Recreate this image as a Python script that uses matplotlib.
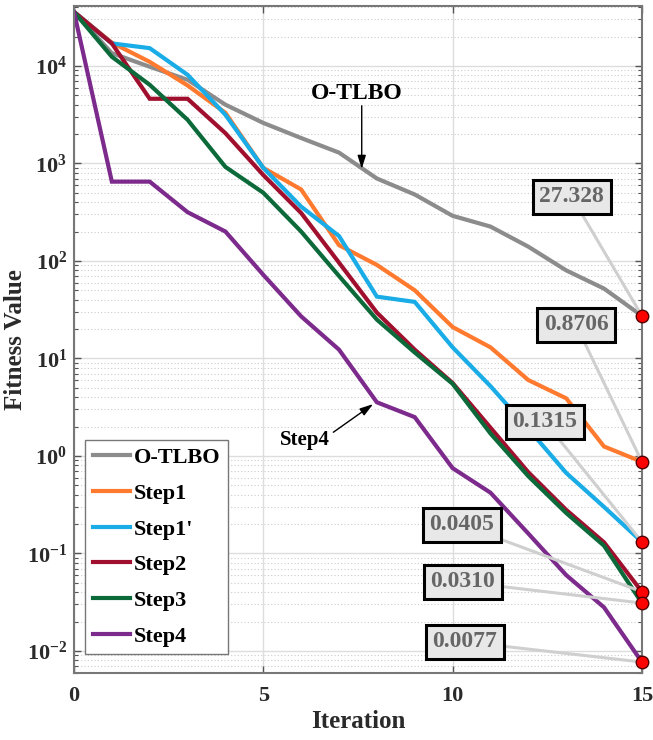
import numpy as np
import matplotlib
matplotlib.use("Agg")
import matplotlib.pyplot as plt
from matplotlib.ticker import FixedLocator, FixedFormatter, NullFormatter

plt.rcParams.update({
    "font.family": "serif",
    "font.serif": ["Liberation Serif", "DejaVu Serif"],
    "font.weight": "bold",
    "mathtext.fontset": "custom",
    "mathtext.rm": "Liberation Serif:bold",
    "mathtext.bf": "Liberation Serif:bold",
    "mathtext.it": "Liberation Serif:bold",
})

# ── Data ─────────────────────────────────────────────────────────────────────
iters = np.arange(16)
names = ["O-TLBO", "Step1", "Step1'", "Step2", "Step3", "Step4"]
colors = ["#8c8c8c", "#ff7a2f", "#19ace6", "#a0102e", "#0c6a3a", "#7c2a8c"]

otlbo = [35800, 13500, 9800, 7200, 4000, 2600, 1820, 1290, 700, 480, 290, 225, 140, 80, 52, 27.328]
step1 = [35800, 17300, 11000, 6300, 3300, 900, 540, 145, 91, 50, 21, 13, 6.0, 3.9, 1.25, 0.8706]
step1p = [35800, 17000, 15200, 8100, 3150, 900, 360, 180, 43, 38, 13, 5.2, 1.9, 0.67, 0.30, 0.1315]
step2 = [35800, 17000, 4600, 4600, 2040, 760, 310, 96, 29.5, 12.3, 5.6, 1.95, 0.68, 0.28, 0.13, 0.0405]
step3 = [35800, 12400, 6400, 2800, 920, 500, 200, 70, 25, 11.5, 5.5, 1.7, 0.62, 0.26, 0.12, 0.0310]
step4 = [35800, 650, 650, 316, 200, 72, 27, 12.3, 3.55, 2.5, 0.75, 0.42, 0.16, 0.060, 0.028, 0.0077]
series = [otlbo, step1, step1p, step2, step3, step4]

final_labels = ["27.328", "0.8706", "0.1315", "0.0405", "0.0310", "0.0077"]
final_vals = [27.328, 0.8706, 0.1315, 0.0405, 0.0310, 0.0077]
label_pos = [(13.15, 453), (13.26, 22.1), (12.44, 2.23), (10.25, 0.196), (10.27, 0.051), (10.32, 0.0124)]

y_exps = [-2, -1, 0, 1, 2, 3, 4]
x_ticks = [0, 5, 10, 15]

# ── Figure ───────────────────────────────────────────────────────────────────
fig = plt.figure(figsize=(6.53, 7.4), dpi=100)
ax = fig.add_axes([0.1133, 0.0905, 0.8697, 0.9015])

for s, c, n in zip(series, colors, names):
    ax.plot(iters, s, color=c, lw=3.0, label=n, solid_joinstyle="miter")

ax.set_yscale("log")
ax.set_xlim(0, 15)
ax.set_ylim(0.00594, 41200)

# ticks / grid
major_y = [10.0 ** e for e in y_exps]
minor_y = [m * 10.0 ** e for e in [-3] + y_exps for m in range(2, 10)]
minor_y = [v for v in minor_y if 0.00594 < v < 41200]
ax.yaxis.set_major_locator(FixedLocator(major_y))
ax.yaxis.set_major_formatter(FixedFormatter([r"$\mathbf{10^{%d}}$" % e for e in y_exps]))
ax.yaxis.set_minor_locator(FixedLocator(minor_y))
ax.yaxis.set_minor_formatter(NullFormatter())
ax.xaxis.set_major_locator(FixedLocator(x_ticks))
ax.grid(True, which="major", color="#dddddd", lw=1.0, ls="-")
ax.grid(True, which="minor", axis="y", color="#cccccc", lw=0.8, ls=(0, (1, 2)))
ax.set_axisbelow(True)

ax.tick_params(which="both", direction="in", top=True, right=True, colors="#555555",
               labelcolor="#2a2a2a", labelsize=16)
ax.tick_params(which="major", length=5, width=1)
ax.tick_params(which="minor", length=3, width=0.8)
ax.tick_params(axis="x", pad=9)
ax.tick_params(axis="y", pad=5)
for sp in ax.spines.values():
    sp.set_color("#777777")
    sp.set_linewidth(1.5)

ax.set_xlabel("Iteration", fontsize=18, fontweight="bold", color="#2a2a2a", labelpad=3)
ax.set_ylabel("Fitness Value", fontsize=18, fontweight="bold", color="#2a2a2a", labelpad=0)

# end markers + value boxes
for v, lab, pos in zip(final_vals, final_labels, label_pos):
    ax.annotate(lab, xy=(15, v), xytext=pos, textcoords="data",
                fontsize=17, fontweight="bold", color="#666666", ha="center", va="center",
                bbox=dict(boxstyle="square,pad=0.28", facecolor="#e8e8e8", edgecolor="black", lw=2.2),
                arrowprops=dict(arrowstyle="-", color="#cfcfcf", lw=2.2, shrinkA=0, shrinkB=0),
                zorder=5)
    ax.plot(15, v, "o", ms=9, mfc="red", mec="#550000", mew=1.0, zorder=6, clip_on=False)

# named arrows
arrow_kw = dict(arrowstyle="-|>,head_width=0.25,head_length=0.8", color="black", lw=1.0,
                shrinkA=0, shrinkB=0)
ax.text(7.48, 5150, "O-TLBO", fontsize=17, fontweight="bold", ha="center", va="center")
ax.annotate("", xy=(7.6, 880), xytext=(7.6, 3900), arrowprops=arrow_kw)
ax.text(6.1, 1.46, "Step4", fontsize=15, fontweight="bold", ha="center", va="center")
ax.annotate("", xy=(7.9, 3.4), xytext=(6.85, 1.75), arrowprops=arrow_kw)

leg = ax.legend(loc="lower left", bbox_to_anchor=(0.019, 0.028), fontsize=16,
                frameon=True, fancybox=False, edgecolor="#777777", framealpha=1,
                handlelength=1.7, handletextpad=0.15, labelspacing=0.68, borderpad=0.35,
                borderaxespad=0)
leg.get_frame().set_linewidth(1.0)
for t in leg.get_texts():
    t.set_fontweight("bold")

fig.savefig("out.png", dpi=100)
